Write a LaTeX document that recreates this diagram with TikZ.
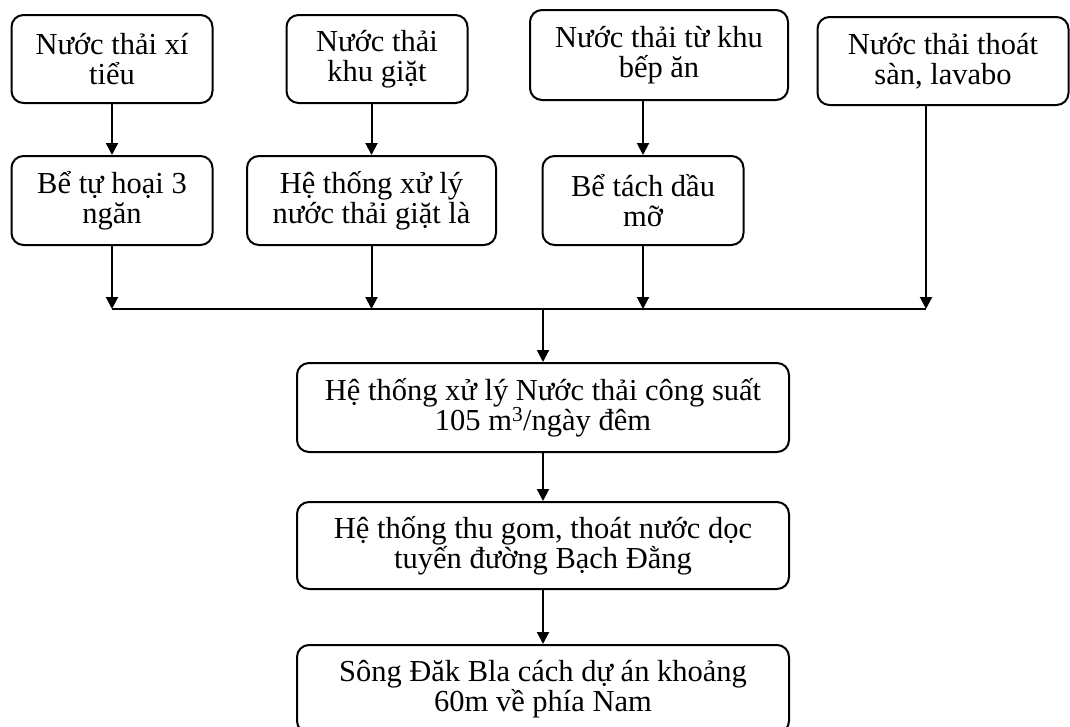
\documentclass[tikz,border=0pt]{standalone}
\usepackage{fontspec}
\setmainfont{Liberation Serif}
\usetikzlibrary{arrows.meta}

\begin{document}
\begin{tikzpicture}[x=1pt,y=-1pt]

\tikzstyle{wbox} = [draw=black,line width=2pt,rounded corners=12pt,align=center,inner sep=0pt,minimum height=88,font=\fontsize{30.5}{30.5}\selectfont]%
\tikzstyle{warc} = [-{Triangle[length=12pt,width=12pt]},line width=2pt]%

\clip (0,0) rectangle (1070,726);
\fill[white] (0,0) rectangle (1070,726);

% sources
\node[wbox, minimum width=201] (xi) at (112, 59) {Nước thải xí\\tiểu};
\node[wbox, minimum width=181] (giat) at (377, 59) {Nước thải\\khu giặt};
\node[wbox, minimum width=258, minimum height=90] (bep) at (659, 55) {Nước thải từ khu\\bếp ăn};
\node[wbox, minimum width=251] (san) at (943, 61) {Nước thải thoát\\sàn, lavabo};

% pre-treatment
\node[wbox, minimum width=201, minimum height=89] (tuhoai) at (112, 200.5) {Bể tự hoại 3\\ngăn};
\node[wbox, minimum width=249, minimum height=89] (xlgiat) at (371.5, 200.5) {Hệ thống xử lý\\nước thải giặt là};
\node[wbox, minimum width=201, minimum height=89] (tachdau) at (643, 200.5) {Bể tách dầu\\mỡ};

\coordinate (busL) at (112, 309);
\coordinate (busR) at (926, 309);

% treatment and discharge
\node[wbox, minimum width=492, minimum height=89] (xlnt) at (543, 407.5) {Hệ thống xử lý Nước thải công suất\\105 m\textsuperscript{3}/ngày đêm};
\node[wbox, minimum width=492, minimum height=87] (thugom) at (543, 545.5) {Hệ thống thu gom, thoát nước dọc\\tuyến đường Bạch Đằng};
\node[wbox, minimum width=492] (song) at (543, 689) {Sông Đăk Bla cách dự án khoảng\\60m về phía Nam};

\draw[warc] (xi) -- (tuhoai);
\draw[warc] (giat.south -| xlgiat) -- (xlgiat);
\draw[warc] (bep.south -| tachdau) -- (tachdau);

\draw[line width=2pt] (busL) -- (busR);
\draw[warc] (tuhoai) -- (tuhoai |- busL);
\draw[warc] (xlgiat) -- (xlgiat |- busL);
\draw[warc] (tachdau) -- (tachdau |- busL);
\draw[warc] (san.south -| busR) -- (busR);

\draw[warc] (xlnt |- busL) -- (xlnt);
\draw[warc] (xlnt) -- (thugom);
\draw[warc] (thugom) -- (song);

\end{tikzpicture}
\end{document}
